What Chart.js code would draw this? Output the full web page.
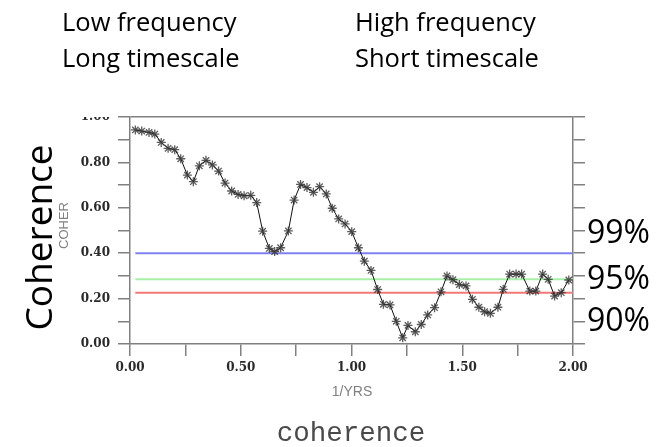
<!DOCTYPE html>
<html>
<head>
<meta charset="utf-8">
<script src="https://cdn.jsdelivr.net/npm/chart.js@4.4.1/dist/chart.umd.min.js"></script>
<style>
  html, body { margin: 0; padding: 0; background: #fff; }
  #wrap { position: relative; width: 658px; height: 447px; overflow: hidden; }
  #wrap canvas { position: absolute; left: 0; top: 0; }
  .note { position: absolute; font-family: 'Open Sans', sans-serif; color: #000; white-space: nowrap; line-height: 1; }
  .big { font-size: 25.5px; }
  .pct { font-size: 32px; left: 587px; }
  .rot { transform-origin: center center; }
  #mask { position: absolute; left: 70px; top: 0; width: 46px; height: 117px; background: #fff; }
</style>
</head>
<body>
<div id="wrap">
  <canvas id="coherence" width="658" height="447"></canvas>
  <div id="mask"></div>
  <div class="note big" style="left:62px; top:9px;">Low frequency</div>
  <div class="note big" style="left:355px; top:9px;">High frequency</div>
  <div class="note big" style="left:62px; top:45px;">Long timescale</div>
  <div class="note big" style="left:355px; top:45px;">Short timescale</div>
  <div class="note pct" style="top:215px;">99%</div>
  <div class="note pct" style="top:261px;">95%</div>
  <div class="note pct" style="top:303px;">90%</div>
  <div class="note rot" style="left:-53px; top:222px; width:180px; text-align:center; font-size:37px; transform:rotate(-90deg);">Coherence</div>
  <div class="note rot" style="left:33px; top:219px; width:60px; text-align:center; font-family:'Liberation Sans',sans-serif; font-size:13px; color:#808080; transform:rotate(-90deg);">COHER</div>
  <div class="note" style="left:302px; top:384px; width:100px; text-align:center; font-family:'Liberation Sans',sans-serif; font-size:14px; color:#808080;">1/YRS</div>
  <div class="note" style="left:251px; top:420px; width:200px; text-align:center; font-family:'Liberation Mono',monospace; font-size:27.5px; color:#4a4a4a;">coherence</div>
</div>
<script>
// coherence spectrum
const freqs = [0.024, 0.053, 0.086, 0.112, 0.141, 0.172, 0.202, 0.229, 0.259, 0.286,
  0.313, 0.343, 0.372, 0.400, 0.429, 0.459, 0.488, 0.515, 0.545, 0.572,
  0.599, 0.629, 0.653, 0.680, 0.715, 0.741, 0.770, 0.799, 0.828, 0.856,
  0.886, 0.913, 0.942, 0.971, 1.001, 1.031, 1.058, 1.088, 1.118, 1.144,
  1.174, 1.202, 1.231, 1.255, 1.288, 1.315, 1.344, 1.375, 1.404, 1.431,
  1.458, 1.487, 1.517, 1.546, 1.575, 1.601, 1.627, 1.661, 1.685, 1.714,
  1.743, 1.768, 1.805, 1.832, 1.863, 1.888, 1.917, 1.947, 1.981];
const coher = [0.943, 0.938, 0.932, 0.925, 0.888, 0.862, 0.856, 0.816, 0.744, 0.715,
  0.785, 0.809, 0.789, 0.762, 0.709, 0.674, 0.659, 0.653, 0.655, 0.623,
  0.497, 0.421, 0.407, 0.424, 0.498, 0.634, 0.703, 0.689, 0.668, 0.693,
  0.661, 0.598, 0.551, 0.529, 0.495, 0.424, 0.365, 0.324, 0.240, 0.175,
  0.172, 0.100, 0.027, 0.082, 0.054, 0.086, 0.128, 0.160, 0.230, 0.300,
  0.283, 0.262, 0.256, 0.197, 0.162, 0.142, 0.135, 0.162, 0.241, 0.308,
  0.308, 0.308, 0.233, 0.233, 0.308, 0.285, 0.211, 0.226, 0.282];

// significance levels
const levelNames = ['99%', '95%', '90%'];
const levelValues = [0.40, 0.285, 0.226];
const levelColors = ['#8080f0', '#a8f0a8', '#f47878'];

const axisGrey = '#808080';
const tickFont = { family: 'DejaVu Serif', size: 12, weight: 'bold' };

const levelSets = levelValues.map((v, i) => ({
    label: levelNames[i],
    data: [{ x: freqs[0], y: v }, { x: 2.0, y: v }],
    showLine: true,
    borderColor: levelColors[i],
    borderWidth: 2,
    pointRadius: 0,
    order: 2
}));

const ctx = document.getElementById('coherence').getContext('2d');
const coherChart = new Chart(ctx, {
    type: 'scatter',
    data: {
        datasets: [{
            label: 'COHER',
            data: freqs.map((f, i) => ({ x: f, y: coher[i] })),
            showLine: true,
            borderColor: '#111',
            borderWidth: 1,
            pointStyle: 'star',
            pointRadius: 4.5,
            pointBorderColor: 'rgba(50,50,50,0.8)',
            pointBorderWidth: 1.3,
            order: 0
        }, ...levelSets]
    },
    options: {
        responsive: false,
        animation: false,
        layout: { padding: { top: 117, left: 0, right: 0, bottom: 0 } },
        plugins: {
            legend: { display: false },
            tooltip: { enabled: false }
        },
        scales: {
            x: {
                type: 'linear',
                position: 'bottom',
                min: 0,
                max: 2,
                afterFit: s => { s.height = 103; },
                ticks: {
                    stepSize: 0.25,
                    autoSkip: false,
                    maxRotation: 0,
                    padding: 5,
                    color: '#2a2a2a',
                    font: tickFont,
                    callback: v => (Math.round(v * 100) % 50 === 0 ? v.toFixed(2) : '')
                },
                grid: { drawOnChartArea: false, tickLength: 12, color: axisGrey, lineWidth: 1.5 },
                border: { color: axisGrey, width: 1.5 }
            },
            y: {
                position: 'left',
                min: 0,
                max: 1,
                afterFit: s => { s.width = 130; },
                ticks: {
                    stepSize: 0.1,
                    padding: 8,
                    color: '#2a2a2a',
                    font: tickFont,
                    callback: v => (Math.round(v * 10) % 2 === 0 ? v.toFixed(2) : '')
                },
                grid: {
                    drawOnChartArea: true,
                    tickLength: 12,
                    lineWidth: 1.5,
                    tickColor: axisGrey,
                    color: c => (c.tick && Math.abs(c.tick.value - 1) < 1e-6 ? axisGrey : 'rgba(0,0,0,0)')
                },
                border: { color: axisGrey, width: 1.5 }
            },
            y2: {
                position: 'right',
                min: 0,
                max: 1,
                afterFit: s => { s.width = 85; },
                ticks: { stepSize: 0.1, callback: () => '' },
                grid: { drawOnChartArea: false, tickLength: 12, color: axisGrey, lineWidth: 1.5 },
                border: { color: axisGrey, width: 1.5 }
            }
        }
    }
});
</script>
</body>
</html>
